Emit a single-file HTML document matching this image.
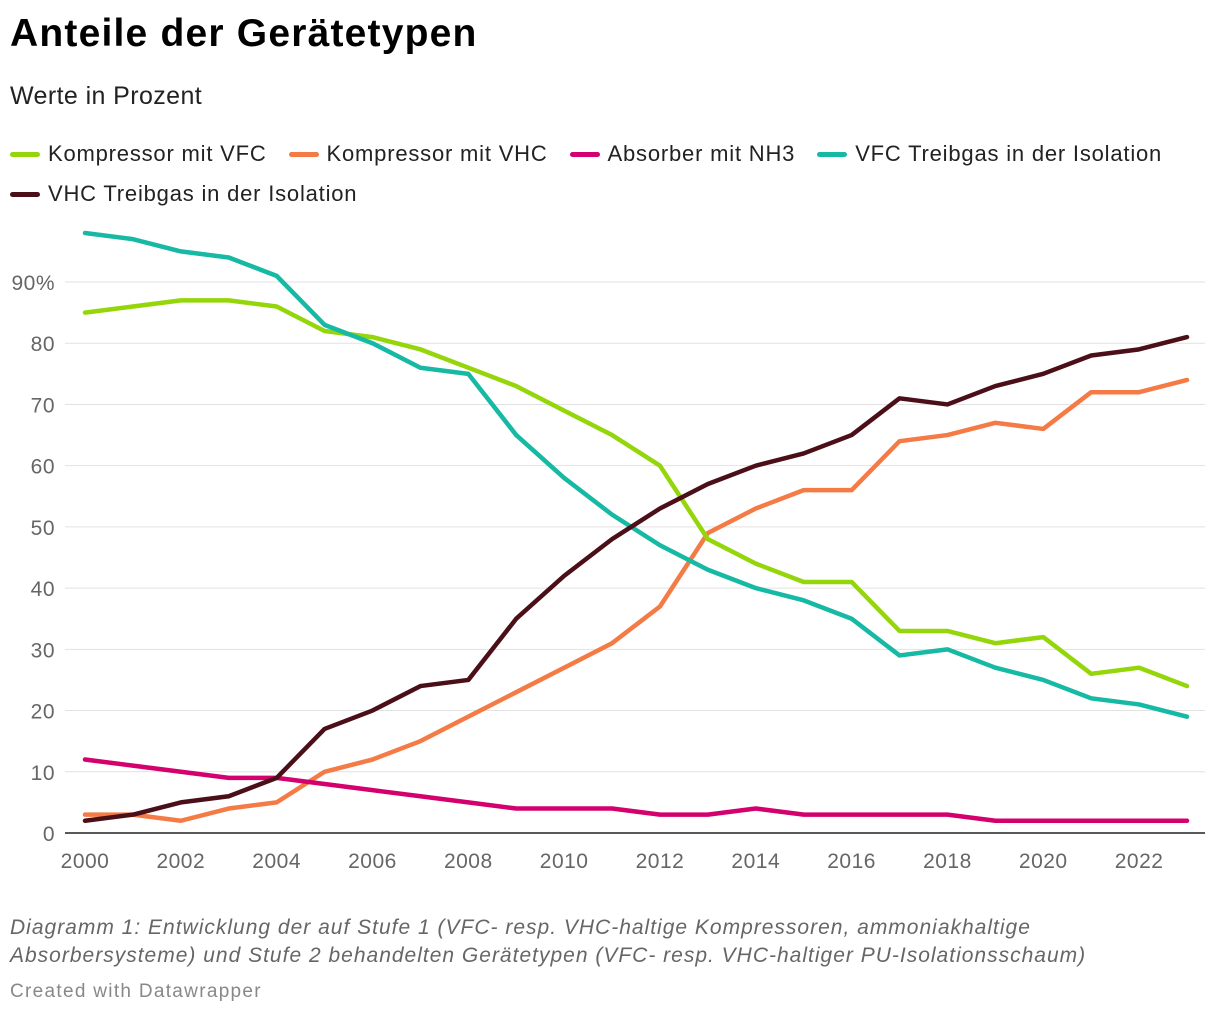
<!DOCTYPE html>
<html><head><meta charset="utf-8"><style>
body{margin:0;background:#fff;font-family:"Liberation Sans",Roboto,sans-serif;width:1220px;height:1016px;overflow:hidden;position:relative}
.t{position:absolute;left:10px;top:12px;font-size:39px;font-weight:bold;color:#000;letter-spacing:1.2px}
.s{position:absolute;left:10px;top:82px;font-size:25px;color:#222;letter-spacing:0.4px}
.lg{position:absolute;left:10px;font-size:22px;color:#222;display:flex;gap:22px;letter-spacing:0.8px}
.li{display:flex;align-items:center}
.sw{width:30px;height:5px;border-radius:3px;margin-right:8px}
.note{position:absolute;left:10px;top:914px;font-size:21px;font-style:italic;color:#666;line-height:28px;letter-spacing:1px}
.cw{position:absolute;left:10px;top:981px;font-size:19px;color:#888;letter-spacing:1.3px}
</style></head><body>
<div class="t">Anteile der Gerätetypen</div>
<div class="s">Werte in Prozent</div>
<div class="lg" style="top:141px">
<div class="li"><span class="sw" style="background:#94d60a"></span>Kompressor mit VFC</div>
<div class="li"><span class="sw" style="background:#f47b45"></span>Kompressor mit VHC</div>
<div class="li"><span class="sw" style="background:#d3006e"></span>Absorber mit NH3</div>
<div class="li"><span class="sw" style="background:#16b9a3"></span>VFC Treibgas in der Isolation</div>
</div>
<div class="lg" style="top:181px">
<div class="li"><span class="sw" style="background:#4b0f18"></span>VHC Treibgas in der Isolation</div>
</div>
<svg id="c" width="1220" height="900" style="position:absolute;left:0;top:0"></svg>
<div class="note">Diagramm 1: Entwicklung der auf Stufe 1 (VFC- resp. VHC-haltige Kompressoren, ammoniakhaltige<br>Absorbersysteme) und Stufe 2 behandelten Gerätetypen (VFC- resp. VHC-haltiger PU-Isolationsschaum)</div>
<div class="cw">Created with Datawrapper</div>
<script>
const years=[2000,2001,2002,2003,2004,2005,2006,2007,2008,2009,2010,2011,2012,2013,2014,2015,2016,2017,2018,2019,2020,2021,2022,2023];
const vfcComp=[85,86,87,87,86,82,81,79,76,73,69,65,60,48,44,41,41,33,33,31,32,26,27,24];
const vhcComp=[3,3,2,4,5,10,12,15,19,23,27,31,37,49,53,56,56,64,65,67,66,72,72,74];
const nh3=[12,11,10,9,9,8,7,6,5,4,4,4,3,3,4,3,3,3,3,2,2,2,2,2];
const vfcIso=[98,97,95,94,91,83,80,76,75,65,58,52,47,43,40,38,35,29,30,27,25,22,21,19];
const vhcIso=[2,3,5,6,9,17,20,24,25,35,42,48,53,57,60,62,65,71,70,73,75,78,79,81];
const yTicks=[0,10,20,30,40,50,60,70,80,90];
const xTicks=[2000,2002,2004,2006,2008,2010,2012,2014,2016,2018,2020,2022];
const X=y=>85+(y-2000)*(1187-85)/23;
const Y=v=>833-v*(833-282)/90;
const svg=document.getElementById('c');const NS='http://www.w3.org/2000/svg';
function mk(t,a){const e=document.createElementNS(NS,t);for(const k in a)e.setAttribute(k,a[k]);svg.appendChild(e);return e;}
yTicks.forEach(v=>{
 if(v>0){const g=mk('line',{x1:65,x2:1205,y1:Y(v),y2:Y(v),stroke:'#e2e2e2','stroke-width':1});
 
 }
 const t=mk('text',{x:55,y:Y(v)+8,'text-anchor':'end','font-size':21,fill:'#666','font-family':'Liberation Sans, sans-serif','letter-spacing':0.5});
 t.textContent=v===90?'90%':String(v);
 
 
});
xTicks.forEach(y=>{
 const t=mk('text',{x:X(y),y:868,'text-anchor':'middle','font-size':21,fill:'#666','font-family':'Liberation Sans, sans-serif','letter-spacing':0.5});
 t.textContent=String(y);
 
 
});
const series=[[vhcComp,'#f47b45','line-vhc-compressor'],[nh3,'#d3006e','line-nh3-absorber'],[vfcComp,'#94d60a','line-vfc-compressor'],[vfcIso,'#16b9a3','line-vfc-insulation'],[vhcIso,'#4b0f18','line-vhc-insulation']];
series.forEach(([d,c,n])=>{
 const p=mk('polyline',{points:d.map((v,i)=>X(years[i])+','+Y(v)).join(' '),fill:'none',stroke:c,'stroke-width':4.5,'stroke-linejoin':'round','stroke-linecap':'round'});
 
 
});
const ax=mk('line',{x1:65,x2:1205,y1:833,y2:833,stroke:'#222','stroke-width':1.5});


</script>
</body></html>
